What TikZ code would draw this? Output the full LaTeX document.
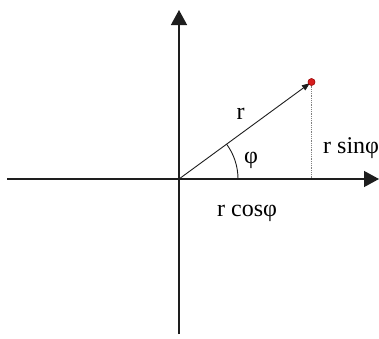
\documentclass[tikz,border=0pt]{standalone}
\usepackage{fontspec}
\setmainfont{Liberation Serif}
\usetikzlibrary{arrows.meta}
\definecolor{axisgray}{RGB}{30,30,30}
\definecolor{dotred}{RGB}{215,30,30}
\tikzset{
  axis/.style={draw=axisgray, line width=1.3pt, -{Triangle[length=15pt,width=16pt]}},
  vec/.style={draw=axisgray, line width=0.9pt, -{Triangle[length=8pt,width=6pt]}},
  lbl/.style={inner sep=0pt, font=\fontsize{24}{28}\selectfont, text=black}
}
\begin{document}
\begin{tikzpicture}[x=1pt,y=-1pt]
\useasboundingbox (0,0) rectangle (379,338);
\coordinate (O) at (179,179);
\coordinate (L) at (7,179);
\coordinate (R) at (379,179);
\coordinate (B) at (179,334);
\coordinate (T) at (179,10);
\coordinate (P) at (311.5,82);
\coordinate (Q) at (311.5,179);
\draw[axis] (L) -- (R);
\draw[axis] (B) -- (T);
\draw[densely dotted, draw=gray, line width=0.8pt] (P) -- (Q);
\draw[vec, shorten >=2pt] (O) -- (P);
\draw[draw=axisgray, line width=0.9pt] (O) ++(59,0) arc[start angle=0, end angle=-36.2, radius=59];
\node[circle, fill=dotred, draw=red!60!black, line width=0.6pt, minimum size=7pt, inner sep=0pt] (dot) at (P) {};
\node[lbl] (r) at (240.5,114) {r};
\node[lbl] (phi) at (251,160) {φ};
\node[lbl, anchor=base west] (rsin) at (323,153) {r sinφ};
\node[lbl, anchor=base west] (rcos) at (217,216) {r cosφ};
\end{tikzpicture}
\end{document}
